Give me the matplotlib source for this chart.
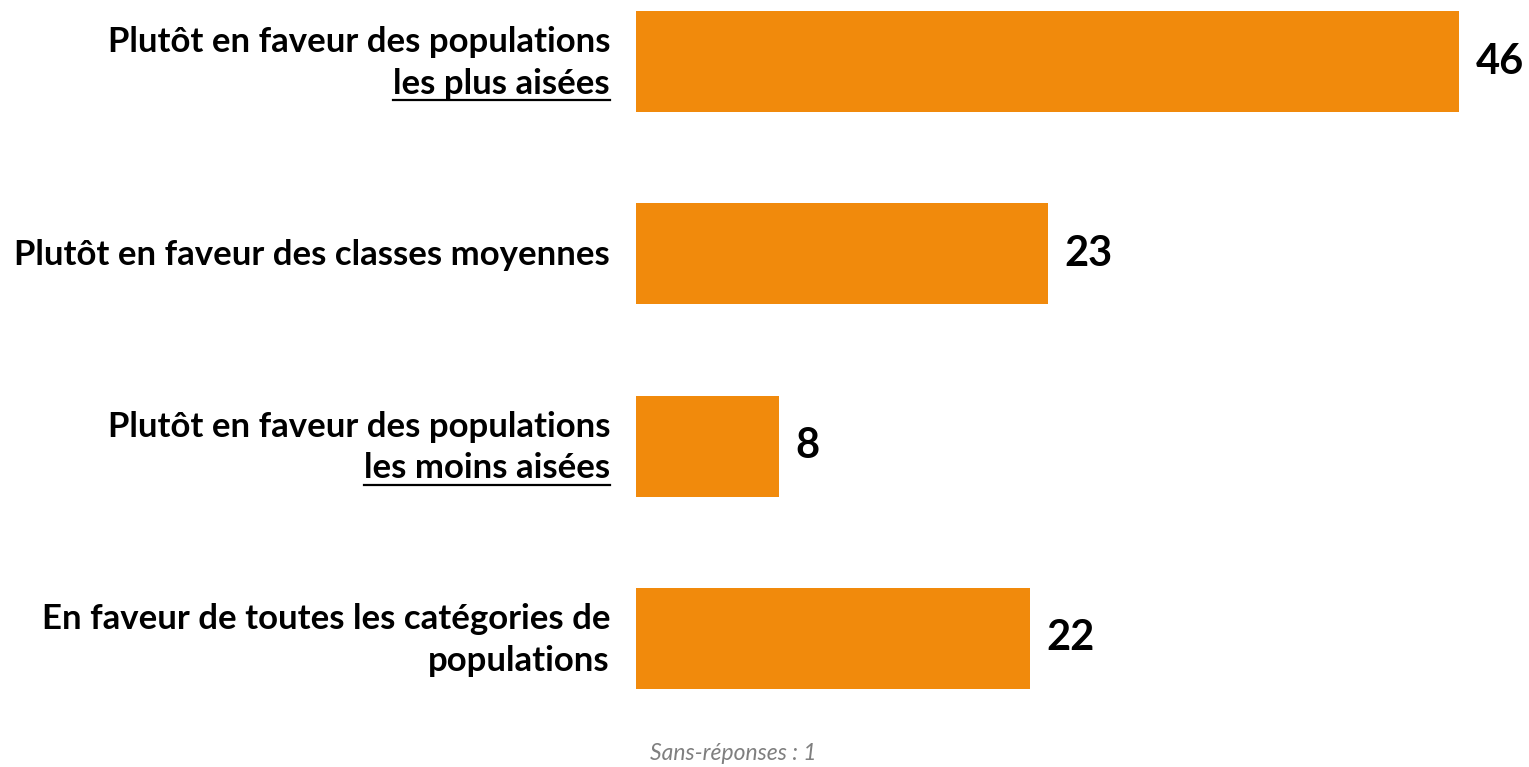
import matplotlib
matplotlib.use('Agg')
import matplotlib.pyplot as plt
from matplotlib.lines import Line2D

# data
line1 = ['Plutôt en faveur des populations',
         'Plutôt en faveur des classes moyennes',
         'Plutôt en faveur des populations',
         'En faveur de toutes les catégories de']
line2 = ['les plus aisées', '', 'les moins aisées', 'populations']
underlined = [True, False, True, False]
values = [46, 23, 8, 22]
note = 'Sans-réponses : 1'

ORANGE = '#F18A0C'
FONT = 'Lato'

fig = plt.figure(figsize=(15.29, 7.67), dpi=100)
ax = fig.add_axes([636 / 1529, 0, 1 - 636 / 1529, 1])
ypos = list(range(len(values)))
ax.barh(ypos, values, height=0.525, color=ORANGE)
ax.set_xlim(0, 49.9)
ax.set_ylim(3.669, -0.32)
ax.axis('off')

for y, v in zip(ypos, values):
    ax.annotate(str(v), (v, y), xytext=(12, 0), textcoords='offset points',
                ha='left', va='center', fontsize=30, fontweight='bold',
                family=FONT, color='black')

# category labels, right aligned left of the bars
fig.canvas.draw()
renderer = fig.canvas.get_renderer()
x_lab = 610 / 1529
for y, a, b, u in zip(ypos, line1, line2, underlined):
    yc = 1 - (63 + y * 192.3) / 767
    if b:
        fig.text(x_lab, yc + 0.027, a, ha='right', va='center',
                 fontsize=25, fontweight='bold', family=FONT)
        t2 = fig.text(x_lab, yc - 0.027, b, ha='right', va='center',
                      fontsize=25, fontweight='bold', family=FONT)
        if u:
            bb = t2.get_window_extent(renderer).transformed(fig.transFigure.inverted())
            yl = bb.y0 - 0.001
            fig.add_artist(Line2D([bb.x0, bb.x1], [yl, yl], color='black',
                                  lw=1.6, transform=fig.transFigure))
    else:
        fig.text(x_lab, yc, a, ha='right', va='center',
                 fontsize=25, fontweight='bold', family=FONT)

fig.text(733 / 1529, 1 - 754 / 767, note, ha='center', va='center',
         fontsize=16.5, style='italic', color='#7F7F7F', family=FONT)

fig.savefig('out.png', dpi=100)
